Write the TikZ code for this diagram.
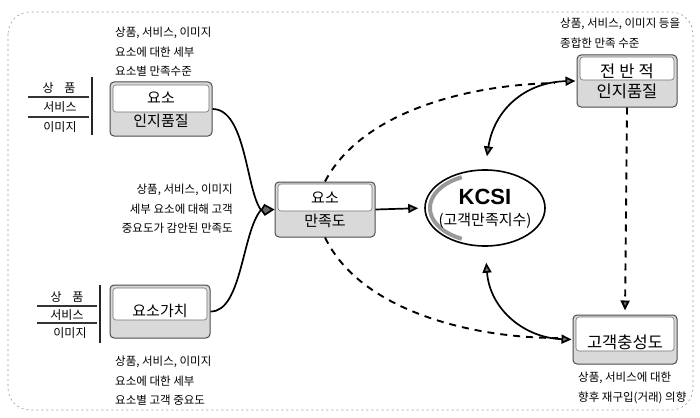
\documentclass[tikz,border=0pt]{standalone}
\usepackage{fontspec}
\setmainfont{Noto Sans CJK KR}
\newfontfamily\latinsans{Liberation Sans}
\usetikzlibrary{arrows.meta,shapes.geometric}

\tikzset{
  note/.style={font=\fontsize{11.5}{19.5}\selectfont, inner sep=0pt},
  sidelabel/.style={font=\fontsize{12}{12}\selectfont, inner sep=0pt},
  boxtext/.style={font=\fontsize{15}{16}\selectfont, inner sep=0pt},
  bigtext/.style={font=\fontsize{16.5}{17}\selectfont, inner sep=0pt},
  outerbox/.style={draw=black!70, fill=black!15, rounded corners=4pt, line width=1pt, inner sep=0pt},
  innerbox/.style={draw=black!55, fill=white, rounded corners=3pt, line width=0.6pt},
  headtip/.tip={Triangle[length=10pt,width=9pt,fill=black!55]},
  link/.style={line width=1.7pt, draw=black},
  dashlink/.style={line width=1.9pt, draw=black, dash pattern=on 7pt off 6pt},
  rule/.style={line width=1.2pt, draw=black!80},
  bar/.style={line width=2.6pt, draw=black!85},
}

\begin{document}
\begin{tikzpicture}[x=1pt,y=-1pt]
\fill[white] (0,0) rectangle (700,417);
\useasboundingbox (0,0) rectangle (700,417);

% frame
\draw[black!40, line width=0.6pt, dash pattern=on 2pt off 3pt, rounded corners=22pt]
  (8,12) rectangle (693,410);

% ---- element perceived quality
\node[outerbox, minimum width=102pt, minimum height=54pt] (q1) at (161,109) {};
\draw[innerbox] (113,85) rectangle (209,112);
\node[boxtext] (q1a) at (161,98) {요소};
\node[boxtext] (q1b) at (161,121) {인지품질};

\node[note, align=left, anchor=west] (n1) at (115,52)
  {상품, 서비스, 이미지\\요소에 대한 세부\\요소별 만족수준};

\node[sidelabel] (a1) at (59,88) {상\hspace{0.9em}품};
\node[sidelabel] (a2) at (60,107) {서비스};
\node[sidelabel] (a3) at (60,127) {이미지};
\draw[rule] (28,97) -- (89,97);
\draw[rule] (28,117) -- (89,117);
\draw[bar] (92,77) -- (92,135);

% ---- element value
\node[outerbox, minimum width=100pt, minimum height=53pt] (q2) at (160,311.5) {};
\draw[innerbox] (113,288) rectangle (207,320);
\node[boxtext] (q2a) at (160,311) {요소가치};

\node[note, align=left, anchor=west] (n3) at (115,381)
  {상품, 서비스, 이미지\\요소에 대한 세부\\요소별 고객 중요도};

\node[sidelabel] (b1) at (67,297) {상\hspace{0.9em}품};
\node[sidelabel] (b2) at (67,315) {서비스};
\node[sidelabel] (b3) at (70,333) {이미지};
\draw[rule] (37,306) -- (97,306);
\draw[rule] (37,323) -- (97,323);
\draw[bar] (100,285) -- (100,343);

\node[note, align=right, anchor=east] (n2) at (233,209)
  {상품, 서비스, 이미지\\세부 요소에 대해 고객\\중요도가 감안된 만족도};

% ---- element satisfaction
\node[outerbox, minimum width=100pt, minimum height=55pt] (s) at (325,209.5) {};
\draw[innerbox] (278,184) rectangle (372,211);
\node[boxtext] (sa) at (325,198) {요소};
\node[boxtext] (sb) at (325,221) {만족도};

% ---- KCSI
\node[draw=black, line width=1.6pt, ellipse, minimum width=120pt, minimum height=76pt, inner sep=0pt] (k) at (485,208) {};
\draw[black!40, line width=4pt]
  (k.center) ++(115:55 and 34) arc[start angle=115, end angle=245, x radius=55, y radius=34];
\node[inner sep=0pt, font=\latinsans\bfseries\fontsize{22}{24}\selectfont] (ka) at (485,197) {KCSI};
\node[boxtext] (kb) at (485,221) {(고객만족지수)};

% ---- overall perceived quality
\node[outerbox, minimum width=100pt, minimum height=52pt] (t) at (627,81) {};
\draw[innerbox] (580,57) rectangle (674,80);
\node[bigtext] (ta) at (627,71) {전\hspace{0.25em}반\hspace{0.25em}적};
\node[bigtext] (tb) at (627,91) {인지품질};
\node[note, align=left, anchor=west] (n4) at (560,33)
  {상품, 서비스, 이미지 등을\\종합한 만족 수준};

% ---- customer loyalty
\node[outerbox, minimum width=104pt, minimum height=49pt] (l) at (625,339.5) {};
\draw[innerbox] (576,317) rectangle (674,351);
\node[bigtext] (la) at (625,342) {고객충성도};
\node[note, align=left, anchor=west] (n5) at (578,388)
  {상품, 서비스에 대한\\향후 재구입(거래) 의향};

% ---- connectors
\coordinate (m) at (261,210);
\draw[link] (q1.east) .. controls (246,109) and (246,190) .. (m);
\draw[link] (q2.east) .. controls (242,312) and (242,232) .. (m);
\draw[link, -{Kite[length=14pt,width=12pt,inset=4pt,fill=black!60]}] (m) -- (s.west);

\draw[link, -headtip, shorten >=6pt] (s.east) -- (k.west);

\coordinate (j1) at (555,83);
\coordinate (j2) at (558,338);
\draw[dashlink] (s.north) .. controls (360,115) and (460,85) .. (j1);
\draw[dashlink] (s.south) .. controls (360,310) and (470,338) .. (j2);

\draw[link, headtip-headtip, shorten <=13pt, shorten >=1pt]
  (k.north) .. controls (494,110) and (525,82) .. (t.west);
\draw[link, headtip-headtip, shorten <=16pt, shorten >=1pt]
  (k.south) .. controls (490,310) and (525,338) .. (l.west);

\draw[dashlink, -headtip, shorten >=4pt] (t.south) -- (l.north);
\end{tikzpicture}
\end{document}
